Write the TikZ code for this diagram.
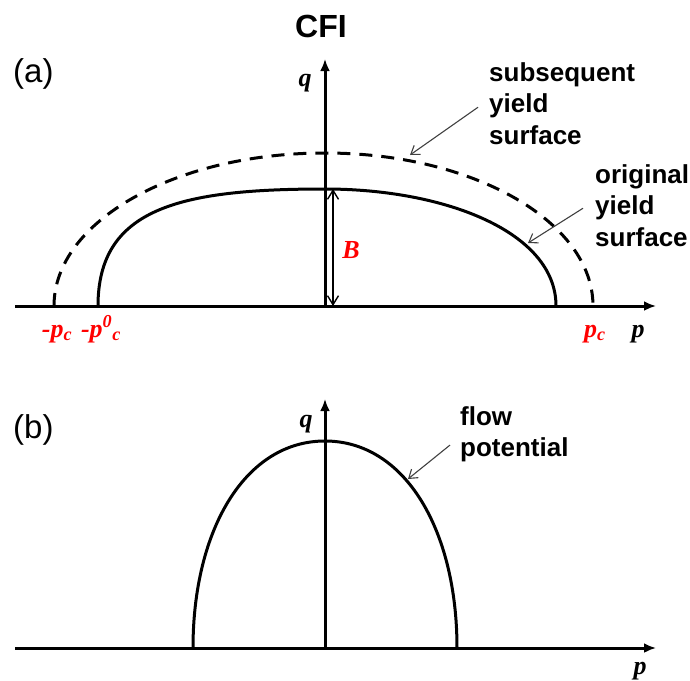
\documentclass[tikz,border=0pt]{standalone}
\usepackage{fontspec}
\setmainfont{Liberation Sans}
\newfontfamily\varfont{Liberation Serif}
\usepackage{xcolor}
\usepackage{tikz}
\usetikzlibrary{arrows.meta}

\begin{document}
\begin{tikzpicture}[x=1pt, y=-1pt,
  axis/.style={line width=3pt, -{Latex[length=12pt,width=10pt]}},
  curve/.style={line width=3pt},
  callout/.style={line width=1.1pt, black!75, -{Straight Barb[length=8pt,width=11pt]}},
  word/.style={font=\fontsize{26}{31.5}\selectfont\bfseries, align=left, inner sep=0pt, anchor=north west},
  var/.style={font=\fontsize{26}{30}\selectfont\varfont\bfseries\itshape, inner sep=0pt, anchor=base},
  panel/.style={font=\fontsize{33}{40}\selectfont, inner sep=0pt, anchor=base west}]
  \useasboundingbox (0,0) rectangle (690,680);

  % Title
  \node[font=\fontsize{32}{38}\selectfont\bfseries, anchor=base] (title) at (321,37) {CFI};

  % (a) Axes
  \coordinate (a0) at (15,306);
  \coordinate (a1) at (656,306);
  \coordinate (ao) at (325,306);
  \coordinate (aq) at (325,59);
  \draw[axis] (a0) -- (a1);
  \draw[axis] (ao) -- (aq);
  \node[panel] (pa) at (13,82) {(a)};
  \node[var] (qa) at (305,86) {q};
  \node[var] (pa1) at (638,337) {p};

  % subsequent yield surface
  \draw[curve, dash pattern=on 13pt off 9pt] (54,306) .. controls (54,221.5) and (175,153) .. (325,153)
    .. controls (473,153) and (593,221.5) .. (593,306);

  % original yield surface
  \draw[curve] (98,306) .. controls (98,208) and (180,189) .. (325,189)
    .. controls (445,189) and (556,232) .. (556,306);

  % B
  \coordinate (btop) at (333,189);
  \coordinate (bbot) at (333,306);
  \draw[line width=1.4pt, {Straight Barb[length=9pt,width=11pt]}-{Straight Barb[length=9pt,width=11pt]}] (btop) -- (bbot);
  \node[var, text=red] (B) at (351,258) {B};

  % p_c labels
  \node[var, text=red] (pcl) at (57,337) {-p\textsubscript{c}};
  \node[var, text=red] (pc0) at (101,337) {-p\textsuperscript{0}\textsubscript{c}};
  \node[var, text=red] (pcr) at (595,337) {p\textsubscript{c}};

  % Callouts
  \node[word] (sublab) at (489,62) {subsequent\\yield\\surface};
  \coordinate (subtip) at (410,155);
  \draw[callout] ([xshift=-11pt,yshift=-4pt]sublab.west) -- (subtip);

  \node[word] (origlab) at (595,164) {original\\yield\\surface};
  \coordinate (origtip) at (528,243);
  \draw[callout] ([xshift=-12pt,yshift=-3pt]origlab.west) -- (origtip);

  % (b) Axes
  \coordinate (b0) at (15,648);
  \coordinate (b1) at (656,648);
  \coordinate (bo) at (325,648);
  \coordinate (bq) at (325,399);
  \draw[axis] (b0) -- (b1);
  \draw[axis] (bo) -- (bq);
  \node[panel] (pb) at (13,438) {(b)};
  \node[var] (qb) at (306,427) {q};
  \node[var] (pb1) at (640,674) {p};

  % flow potential
  \draw[curve] (193,648) .. controls (193,530) and (245,441) .. (325,441)
    .. controls (405,441) and (457,530) .. (457,648);

  \node[word] (flowlab) at (460,406) {flow\\potential};
  \coordinate (flowtip) at (408,479);
  \draw[callout] ([xshift=-10pt,yshift=-11pt]flowlab.west) -- (flowtip);

\end{tikzpicture}
\end{document}
